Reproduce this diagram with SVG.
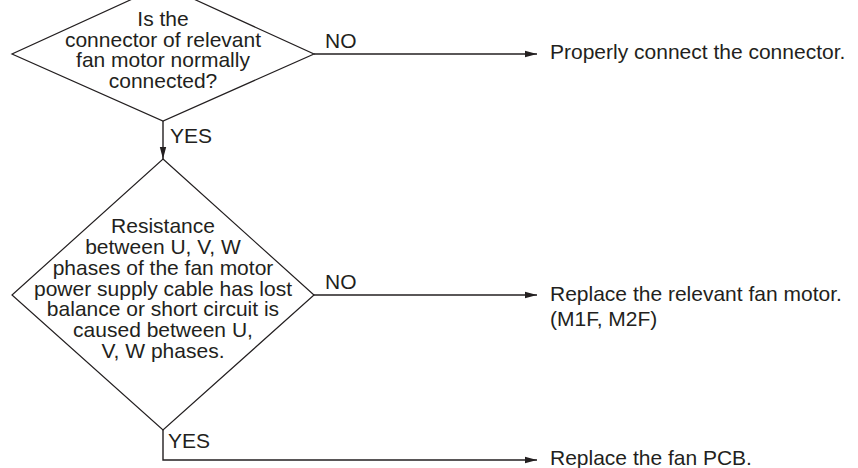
<svg xmlns="http://www.w3.org/2000/svg" width="858" height="468" viewBox="0 0 858 468">
<style>
text{font-family:"Liberation Sans",Arial,Helvetica,sans-serif;font-size:21px;fill:#231f20}
.c{text-anchor:middle}
.shape{fill:none;stroke:#231f20;stroke-width:1.2}
.line{fill:none;stroke:#231f20;stroke-width:1.4}
</style>
<defs>
<marker id="arr" viewBox="0 0 12 8" refX="12" refY="4" markerWidth="12" markerHeight="8" markerUnits="userSpaceOnUse" orient="auto">
<path d="M0,0.8 L12,4 L0,7.2 Z" fill="#231f20"/>
</marker>
</defs>
<rect width="858" height="468" fill="#fff"/>
<g id="decision1">
<polygon class="shape" points="163,-15 314,54 163,121 12,54"/>
<text class="c" x="163" y="26">Is the</text>
<text class="c" x="163" y="46.5">connector of relevant</text>
<text class="c" x="163" y="67">fan motor normally</text>
<text class="c" x="163" y="87.5">connected?</text>
</g>
<g id="decision2">
<polygon class="shape" points="163,159 314,295 163,430 12,295"/>
<text class="c" x="163" y="233">Resistance</text>
<text class="c" x="163" y="254">between U, V, W</text>
<text class="c" x="163" y="274.5">phases of the fan motor</text>
<text class="c" x="163" y="295.5">power supply cable has lost</text>
<text class="c" x="163" y="316">balance or short circuit is</text>
<text class="c" x="163" y="337">caused between U,</text>
<text class="c" x="163" y="357.5">V, W phases.</text>
</g>
<g id="result1">
<text x="550" y="59">Properly connect the connector.</text>
</g>
<g id="result2">
<text x="550" y="301">Replace the relevant fan motor.</text>
<text x="550" y="326">(M1F, M2F)</text>
</g>
<g id="result3">
<text x="550" y="465">Replace the fan PCB.</text>
</g>
<g id="connectors">
<line class="line" x1="314" y1="54" x2="537" y2="54" marker-end="url(#arr)"/>
<text x="325" y="48">NO</text>
<line class="line" x1="163" y1="121" x2="163" y2="159" marker-end="url(#arr)"/>
<text x="170" y="143">YES</text>
<line class="line" x1="314" y1="295" x2="537" y2="295" marker-end="url(#arr)"/>
<text x="325" y="289">NO</text>
<polyline class="line" points="163,430 163,460 537,460" marker-end="url(#arr)"/>
<text x="168" y="448">YES</text>
</g>
</svg>
